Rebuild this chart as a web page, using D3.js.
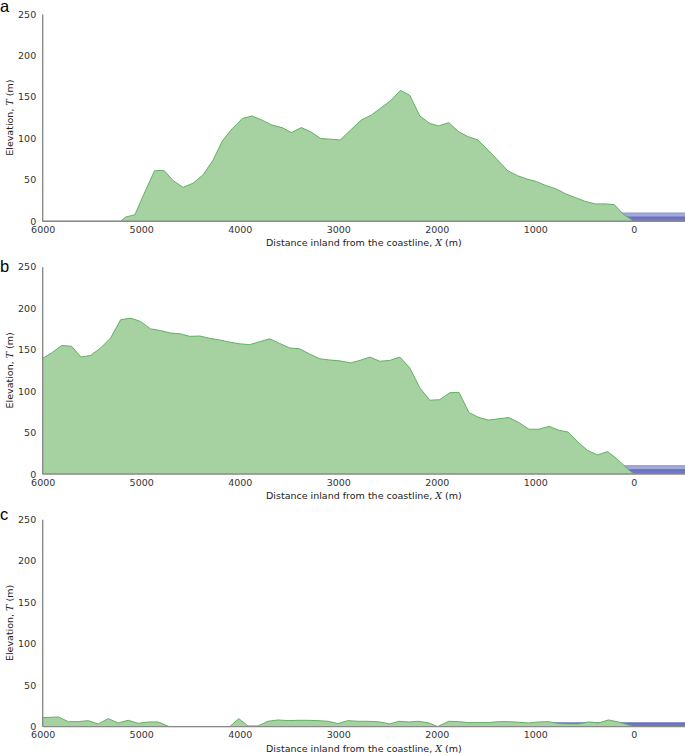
<!DOCTYPE html>
<html><head><meta charset="utf-8">
<script src="https://cdn.jsdelivr.net/npm/d3@7"></script>
<style>
body{margin:0;background:#fff;}
svg{display:block;}
</style></head>
<body>
<svg id="chart" width="685" height="755"></svg>
<script>
// ---- data ----
const panelLabels = ["a", "b", "c"];
const xTicks = [6000, 5000, 4000, 3000, 2000, 1000, 0];
const yTicks = [0, 50, 100, 150, 200, 250];

const xA = [6000,5210,5159,5064,4968,4865,4770,4676,4574,4473,4372,4270,4176,4074,3973,3875,3774,3672,3571,3476,3375,3280,3179,3078,2980,2875,2767,2666,2564,2463,2368,2274,2172,2071,1980,1878,1777,1682,1581,1480,1382,1280,1179,1084,990,889,787,689,591,493,392,291,196,105,0];
const tA = [0,0,5,8,34,61,61.5,49,41,46,56,74,97,112,124,127,122,116,113,107,113,108,100,99,98,110,122,128,137,146,158,152,127,118,115,119,108,102,98,86,74,61,55,51,48,43,39,33,28.5,24,21,21,20,8.4,0];

const xB = [6000,5909,5807,5706,5611,5514,5412,5311,5209,5108,5007,4905,4804,4703,4601,4507,4405,4304,4203,4101,4000,3899,3797,3696,3595,3493,3392,3291,3189,3088,2986,2875,2780,2679,2578,2476,2375,2274,2172,2071,1970,1868,1774,1672,1571,1470,1368,1267,1166,1064,963,861,760,666,571,470,368,267,172,98,0];
const tB = [139.5,146,155,154,141,143,152,164,186,188,184,175,173,170,169,166,166.4,163.6,161.6,159,157,156,159.6,163,157.5,152,151,144.7,139,137.5,136.5,134,137,141,136,137,141,128,104,89,89.6,98,98.5,74,68,65,66.7,68,62,54,54,57.5,52.7,50.6,39,28.5,23,27,18.5,10,0];

const xC = [6000,5841,5740,5639,5537,5436,5334,5233,5132,5030,4929,4828,4716,4101,4010,3916,3814,3713,3611,3510,3409,3307,3206,3105,3003,2902,2800,2700,2578,2476,2385,2284,2182,2081,1990,1878,1777,1676,1574,1473,1372,1270,1169,1068,966,865,764,662,561,459,358,257,155,0];
const tC = [10.8,11.6,6,6,7.2,3.2,9.6,4.4,7.6,4,5.6,5.6,0,0,9.6,0.8,0.8,6.4,8,7.2,7.6,7.6,7.2,6.4,3.6,7.2,6.4,6.4,5.6,3.2,6.4,5.6,6.4,4.4,0,6.4,6,4.8,4.8,4.8,6,6,5.2,4.4,5.6,6,3.6,3.2,3.2,5.6,4.4,8,5.6,0];

// sea water levels (m) per panel, and inland extent of the water (m)
const waterA = [10, 5];
const waterB = [10, 5];
const waterC = [4.5];
const waterExtent = [820, -520];

// ---- layout ----
const left = 42.7, right = 685;
const panelTops = [14, 266.7, 519.3];
const panelH = 207.3;
const letterBase = [11.5, 272, 520];

const panels = [
  {x: xA, t: tA, water: waterA},
  {x: xB, t: tB, water: waterB},
  {x: xC, t: tC, water: waterC}
];

const svg = d3.select("#chart");
const x = d3.scaleLinear().domain([6000, -520]).range([left, right]);

const fillGreen = "#a6d2a2";
const lineGreen = "#62b162";
const waterFill = ["#a2a9dc", "#6f79c2"];
const waterLine = ["#8d95d2", "#5a64b2"];
const tickFont = "DejaVu Sans, sans-serif";

panels.forEach((p, i) => {
  const top = panelTops[i];
  const y = d3.scaleLinear().domain([0, 250]).range([top + panelH, top]);
  const g = svg.append("g");
  const data = p.x.map((xv, k) => ({x: xv, t: p.t[k]}));

  // water
  const levels = p.water;
  levels.forEach((lv, k) => {
    const shade = levels.length === 1 ? 1 : k;
    g.append("rect")
      .attr("x", x(waterExtent[0]))
      .attr("y", y(lv))
      .attr("width", x(waterExtent[1]) - x(waterExtent[0]))
      .attr("height", y(0) - y(lv))
      .attr("fill", waterFill[shade]);
    g.append("line")
      .attr("x1", x(waterExtent[0])).attr("x2", x(waterExtent[1]))
      .attr("y1", y(lv)).attr("y2", y(lv))
      .attr("stroke", waterLine[shade]).attr("stroke-width", 1);
  });

  // land
  const area = d3.area().x(d => x(d.x)).y0(y(0)).y1(d => y(d.t));
  const line = d3.line().x(d => x(d.x)).y(d => y(d.t));
  g.append("path").datum(data).attr("d", area).attr("fill", fillGreen);
  g.append("path").datum(data).attr("d", line)
    .attr("fill", "none").attr("stroke", lineGreen).attr("stroke-width", 1);

  // axes
  const ax = g.append("g").attr("transform", `translate(0,${y(0) - 0.5})`)
    .call(d3.axisBottom(x).tickValues(xTicks).tickSize(0).tickPadding(5.5).tickFormat(d3.format("d")));
  const ay = g.append("g").attr("transform", `translate(${left - 0.5},0)`)
    .call(d3.axisLeft(y).tickValues(yTicks).tickSize(0).tickPadding(6));
  [ax, ay].forEach(a => {
    a.select(".domain").attr("stroke", "#8a8a8a").attr("stroke-width", 1.4);
    a.selectAll("text").attr("font-family", tickFont).attr("font-size", 9.5).attr("fill", "#333");
  });

  // x label
  const xl = g.append("text")
    .attr("x", (left + right) / 2).attr("y", y(0) + 25)
    .attr("text-anchor", "middle")
    .attr("font-family", tickFont).attr("font-size", 9.5).attr("fill", "#222");
  xl.append("tspan").text("Distance inland from the coastline, ");
  xl.append("tspan").attr("font-family", "DejaVu Serif, serif").attr("font-style", "italic").text("X");
  xl.append("tspan").text(" (m)");

  // y label
  const yl = g.append("text")
    .attr("transform", `translate(13,${top + panelH / 2}) rotate(-90)`)
    .attr("text-anchor", "middle")
    .attr("font-family", tickFont).attr("font-size", 9.5).attr("fill", "#222");
  yl.append("tspan").text("Elevation, ");
  yl.append("tspan").attr("font-family", "DejaVu Serif, serif").attr("font-style", "italic").text("T");
  yl.append("tspan").text(" (m)");

  // panel letter
  svg.append("text").attr("x", 0).attr("y", letterBase[i])
    .attr("font-family", "Liberation Sans, Arial, sans-serif").attr("font-size", 16.5)
    .attr("fill", "#000").text(panelLabels[i]);
});
</script>
</body></html>
